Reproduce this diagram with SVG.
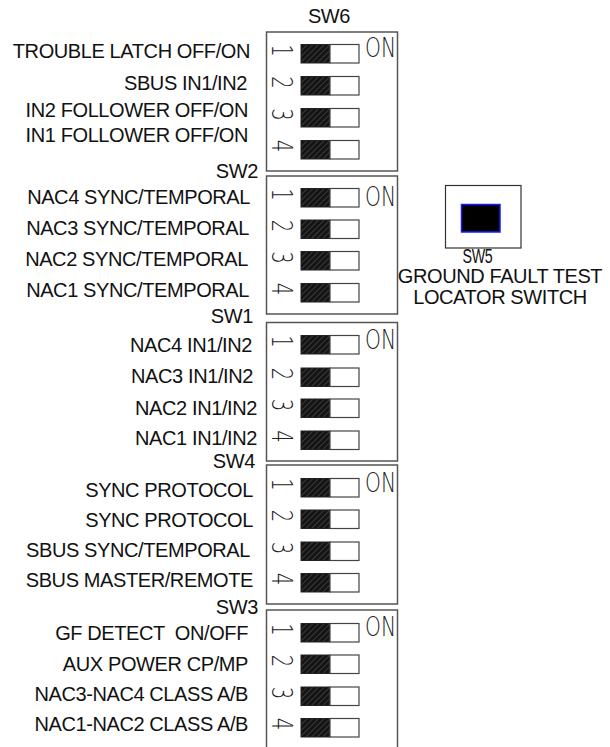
<svg xmlns="http://www.w3.org/2000/svg" xmlns:xlink="http://www.w3.org/1999/xlink" width="610" height="747" viewBox="0 0 610 747">
<defs>
<style>
.box{fill:#fff;stroke:#555;stroke-width:1.5}
.lbl{font-family:"Liberation Sans",Arial,sans-serif;font-size:20px;letter-spacing:-0.4px;fill:#111;text-anchor:end}
.ttl{font-family:"Liberation Sans",Arial,sans-serif;font-size:20px;letter-spacing:-0.4px;fill:#111}
.thin{font-family:"DejaVu Sans",sans-serif;font-weight:200;font-size:27px;fill:#222}
.dg{font-family:"DejaVu Sans",sans-serif;font-weight:200;font-size:28px;fill:#222;text-anchor:middle}
</style>
<pattern id="hatch" width="4" height="4" patternUnits="userSpaceOnUse" patternTransform="rotate(45)">
<rect width="4" height="4" fill="#141414"/><rect width="1" height="4" fill="#3a3a3a"/>
</pattern>
<g id="dip">
<rect x="0" y="0" width="29" height="18.5" fill="url(#hatch)" stroke="#222" stroke-width="1"/>
<rect x="29" y="0" width="29" height="18.5" fill="#fff" stroke="#444" stroke-width="1.2"/>
</g>
</defs>
<rect width="610" height="747" fill="#fff"/>
<g id="connectors"/>

<g id="sw6">
<text class="ttl" x="329" y="23" text-anchor="middle">SW6</text>
<rect class="box" x="266.5" y="32" width="131" height="139"/>
<text class="thin" transform="translate(365,57) scale(0.75,1)">ON</text>
<use xlink:href="#dip" x="301" y="44.5"/>
<use xlink:href="#dip" x="301" y="76.5"/>
<use xlink:href="#dip" x="301" y="108.5"/>
<use xlink:href="#dip" x="301" y="140.5"/>
<text class="dg" transform="translate(272,50.5) rotate(90) scale(0.7,1)">1</text>
<text class="dg" transform="translate(272,82.5) rotate(90) scale(0.7,1)">2</text>
<text class="dg" transform="translate(272,114.5) rotate(90) scale(0.7,1)">3</text>
<text class="dg" transform="translate(272,146) rotate(90) scale(0.7,1)">4</text>
<text class="lbl" x="250" y="58">TROUBLE LATCH OFF/ON</text>
<text class="lbl" x="247" y="90">SBUS IN1/IN2</text>
<text class="lbl" x="248" y="117">IN2 FOLLOWER OFF/ON</text>
<text class="lbl" x="248" y="142">IN1 FOLLOWER OFF/ON</text>
</g>

<g id="sw2">
<text class="lbl" x="258" y="178">SW2</text>
<rect class="box" x="266.5" y="176" width="131" height="138"/>
<text class="thin" transform="translate(365,206) scale(0.75,1)">ON</text>
<use xlink:href="#dip" x="301" y="188.5"/>
<use xlink:href="#dip" x="301" y="220"/>
<use xlink:href="#dip" x="301" y="251.5"/>
<use xlink:href="#dip" x="301" y="283.5"/>
<text class="dg" transform="translate(272,194.5) rotate(90) scale(0.7,1)">1</text>
<text class="dg" transform="translate(272,226) rotate(90) scale(0.7,1)">2</text>
<text class="dg" transform="translate(272,257.5) rotate(90) scale(0.7,1)">3</text>
<text class="dg" transform="translate(272,289) rotate(90) scale(0.7,1)">4</text>
<text class="lbl" x="250" y="204">NAC4 SYNC/TEMPORAL</text>
<text class="lbl" x="249" y="235">NAC3 SYNC/TEMPORAL</text>
<text class="lbl" x="248" y="266">NAC2 SYNC/TEMPORAL</text>
<text class="lbl" x="249" y="297">NAC1 SYNC/TEMPORAL</text>
</g>

<g id="sw1">
<text class="lbl" x="253" y="323">SW1</text>
<rect class="box" x="266.5" y="322.5" width="131" height="138.5"/>
<text class="thin" transform="translate(365,349) scale(0.75,1)">ON</text>
<use xlink:href="#dip" x="301" y="335.5"/>
<use xlink:href="#dip" x="301" y="368"/>
<use xlink:href="#dip" x="301" y="399"/>
<use xlink:href="#dip" x="301" y="431"/>
<text class="dg" transform="translate(272,341.5) rotate(90) scale(0.7,1)">1</text>
<text class="dg" transform="translate(272,374) rotate(90) scale(0.7,1)">2</text>
<text class="dg" transform="translate(272,405) rotate(90) scale(0.7,1)">3</text>
<text class="dg" transform="translate(272,436.5) rotate(90) scale(0.7,1)">4</text>
<text class="lbl" x="252" y="352">NAC4 IN1/IN2</text>
<text class="lbl" x="253" y="383">NAC3 IN1/IN2</text>
<text class="lbl" x="257" y="415">NAC2 IN1/IN2</text>
<text class="lbl" x="257" y="445">NAC1 IN1/IN2</text>
</g>

<g id="sw4">
<text class="lbl" x="255" y="468">SW4</text>
<rect class="box" x="266.5" y="465" width="131" height="139"/>
<text class="thin" transform="translate(365,492) scale(0.75,1)">ON</text>
<use xlink:href="#dip" x="301" y="478.5"/>
<use xlink:href="#dip" x="301" y="510"/>
<use xlink:href="#dip" x="301" y="542"/>
<use xlink:href="#dip" x="301" y="573.5"/>
<text class="dg" transform="translate(272,484.5) rotate(90) scale(0.7,1)">1</text>
<text class="dg" transform="translate(272,516) rotate(90) scale(0.7,1)">2</text>
<text class="dg" transform="translate(272,548) rotate(90) scale(0.7,1)">3</text>
<text class="dg" transform="translate(272,579) rotate(90) scale(0.7,1)">4</text>
<text class="lbl" x="253" y="497">SYNC PROTOCOL</text>
<text class="lbl" x="253" y="527">SYNC PROTOCOL</text>
<text class="lbl" x="250" y="557">SBUS SYNC/TEMPORAL</text>
<text class="lbl" x="253" y="587">SBUS MASTER/REMOTE</text>
</g>

<g id="sw3">
<text class="lbl" x="258" y="614">SW3</text>
<rect class="box" x="266.5" y="610" width="131" height="145"/>
<text class="thin" transform="translate(365,636) scale(0.75,1)">ON</text>
<use xlink:href="#dip" x="301" y="623.5"/>
<use xlink:href="#dip" x="301" y="655"/>
<use xlink:href="#dip" x="301" y="687"/>
<use xlink:href="#dip" x="301" y="718.5"/>
<text class="dg" transform="translate(272,629.5) rotate(90) scale(0.7,1)">1</text>
<text class="dg" transform="translate(272,661) rotate(90) scale(0.7,1)">2</text>
<text class="dg" transform="translate(272,693) rotate(90) scale(0.7,1)">3</text>
<text class="dg" transform="translate(272,724) rotate(90) scale(0.7,1)">4</text>
<text class="lbl" x="248" y="640" xml:space="preserve">GF DETECT  ON/OFF</text>
<text class="lbl" x="248" y="671">AUX POWER CP/MP</text>
<text class="lbl" x="248" y="701">NAC3-NAC4 CLASS A/B</text>
<text class="lbl" x="248" y="731">NAC1-NAC2 CLASS A/B</text>
</g>

<g id="sw5">
<rect x="445.5" y="185.5" width="75.5" height="62.5" fill="#fff" stroke="#333" stroke-width="1.2"/>
<rect x="461.5" y="204.5" width="38.5" height="27.5" fill="#000" stroke="#1a1aff" stroke-width="1.5"/>
<text class="ttl" x="477.5" y="263" text-anchor="middle" font-size="16" textLength="30" lengthAdjust="spacingAndGlyphs">SW5</text>
<text class="ttl" x="500" y="283" text-anchor="middle">GROUND FAULT TEST</text>
<text class="ttl" x="500" y="304" text-anchor="middle">LOCATOR SWITCH</text>
</g>
</svg>
